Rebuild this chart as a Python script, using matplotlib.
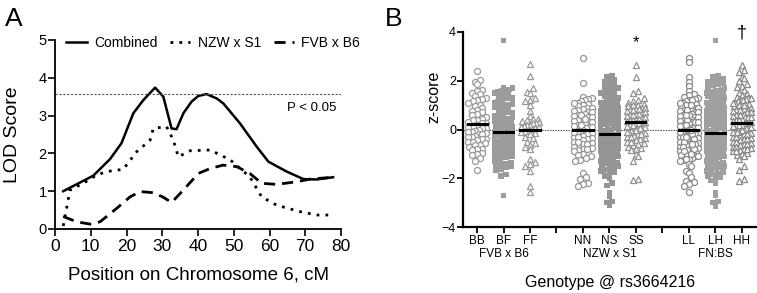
import numpy as np
import matplotlib
matplotlib.use("Agg")
import matplotlib.pyplot as plt
from matplotlib.lines import Line2D
from matplotlib.transforms import blended_transform_factory

plt.rcParams['font.family'] = ['Liberation Sans', 'DejaVu Sans']

# ---- panel A: LOD curves along chromosome 6 ----
comb_x = [2.3, 10.7, 15.4, 18.6, 21.9, 24.7, 28.0, 30.3, 32.6, 34.0, 35.9, 38.2, 40.1,
          42.4, 45.3, 47.1, 51.7, 56.4, 59.7, 64.8, 69.5, 73.2, 77.8]
comb_y = [1.00, 1.41, 1.85, 2.27, 3.06, 3.41, 3.74, 3.50, 2.66, 2.64, 3.06, 3.37, 3.52,
          3.57, 3.45, 3.32, 2.80, 2.18, 1.78, 1.52, 1.32, 1.31, 1.37]
nzw_x = [2.3, 4.2, 7.9, 11.7, 14.5, 19.1, 22.9, 26.6, 27.5, 31.2, 33.1, 34.5, 37.8,
         43.4, 49.0, 54.5, 57.8, 62.0, 68.5, 73.2, 77.4]
nzw_y = [0.08, 1.03, 1.21, 1.43, 1.52, 1.58, 2.05, 2.35, 2.66, 2.71, 2.35, 1.91, 2.07,
         2.09, 1.83, 1.38, 0.85, 0.63, 0.46, 0.37, 0.37]
fvb_x = [2.3, 6.1, 9.8, 12.6, 17.3, 21.0, 23.8, 27.5, 30.3, 32.6, 35.9, 40.1, 43.4,
         47.0, 50.8, 54.5, 57.8, 62.0, 67.6, 71.3, 77.8]
fvb_y = [0.33, 0.19, 0.13, 0.19, 0.55, 0.85, 0.99, 0.96, 0.84, 0.70, 1.03, 1.47, 1.60,
         1.69, 1.65, 1.47, 1.21, 1.18, 1.25, 1.32, 1.37]
threshold = 3.57

# ---- panel B: z-scores by genotype ----
bb = [2.38, 2.05, 1.95, 1.85, 1.62, 1.58, 1.5, 1.45, 1.38, 1.3, 1.25, 1.2, 1.15, 1.1, 1.02,
      0.95, 0.9, 0.82, 0.75, 0.7, 0.62, 0.58, 0.5, 0.45, 0.4, 0.38, 0.32, 0.28, 0.25, 0.2,
      0.15, 0.12, 0.08, 0.05, 0.0, -0.05, -0.1, -0.1, -0.15, -0.2, -0.2, -0.25, -0.3, -0.3,
      -0.38, -0.4, -0.45, -0.5, -0.5, -0.55, -0.62, -0.65, -0.7, -0.78, -0.8, -0.85, -0.95,
      -1.0, -1.05, -1.15, -1.3, -1.65]
bf = [3.65, 1.72, 1.7, 1.65, 1.62, 1.55, 1.5, 1.45, 1.4, 1.35, 1.3, 1.28, 1.2, 1.15, 1.1,
      1.05, 1.0, 0.95, 0.92, 0.85, 0.8, 0.78, 0.7, 0.65, 0.6, 0.55, 0.5, 0.45, 0.42, 0.35,
      0.3, 0.28, 0.2, 0.15, 0.1, 0.08, 0.02, -0.02, -0.05, -0.1, -0.12, -0.15, -0.2, -0.22,
      -0.25, -0.3, -0.32, -0.35, -0.4, -0.42, -0.45, -0.5, -0.52, -0.55, -0.6, -0.62, -0.65,
      -0.7, -0.72, -0.75, -0.8, -0.82, -0.85, -0.9, -0.92, -0.95, -1.0, -1.02, -1.05, -1.1,
      -1.12, -1.15, -1.2, -1.25, -1.3, -1.35, -1.4, -1.45, -1.5, -1.55, -1.62, -1.68, -1.85,
      -1.9, -2.7, 1.6, 1.3, 1.0, 0.7, 0.4, 0.1, -0.2, -0.5, -0.8, -1.1, -1.4]
ff = [2.7, 2.2, 1.7, 1.55, 1.48, 1.3, 1.2, 1.15, 1.0, 0.75, 0.55, 0.45, 0.42, 0.38, 0.35,
      0.3, 0.28, 0.25, 0.2, 0.18, 0.15, 0.12, 0.1, 0.05, 0.02, 0.0, -0.05, -0.1, -0.15,
      -0.2, -0.3, -0.35, -0.5, -0.55, -0.65, -0.7, -0.8, -1.2, -1.35, -1.4, -1.48, -1.7,
      -2.3, -2.58]
nn = [2.95, 1.92, 1.35, 1.3, 1.25, 1.2, 1.15, 1.1, 1.05, 1.0, 0.95, 0.9, 0.85, 0.8, 0.75,
      0.7, 0.65, 0.6, 0.55, 0.5, 0.45, 0.4, 0.35, 0.3, 0.25, 0.2, 0.15, 0.1, 0.05, 0.0,
      -0.05, -0.1, -0.15, -0.2, -0.25, -0.3, -0.35, -0.4, -0.45, -0.5, -0.55, -0.6, -0.65,
      -0.7, -0.75, -0.8, -0.85, -0.9, -0.95, -1.0, -1.05, -1.1, -1.15, -1.25, -1.3, -1.8,
      -1.95, -2.05, -2.2, -2.22, -2.3, 0.9, 0.7, 0.5, 0.3, 0.1, -0.1, -0.3, -0.5, -0.6,
      -0.8, 1.1, 0.6, 0.45, 0.2]
ns = [2.2, 2.15, 2.05, 2.0, 1.95, 1.85, 1.8, 1.75, 1.7, 1.65, 1.6, 1.55, 1.5, 1.45, 1.4,
      1.35, 1.3, 1.25, 1.2, 1.15, 1.1, 1.05, 1.0, 0.95, 0.9, 0.85, 0.8, 0.75, 0.7, 0.65,
      0.6, 0.55, 0.5, 0.45, 0.4, 0.35, 0.3, 0.25, 0.2, 0.15, 0.1, 0.05, 0.0, -0.05, -0.1,
      -0.15, -0.2, -0.25, -0.3, -0.35, -0.4, -0.45, -0.5, -0.55, -0.6, -0.65, -0.7, -0.75,
      -0.8, -0.85, -0.9, -0.95, -1.0, -1.05, -1.1, -1.15, -1.2, -1.25, -1.3, -1.35, -1.4,
      -1.45, -1.5, -1.55, -1.6, -1.65, -1.7, -1.75, -1.8, -1.9, -2.0, -2.2, -2.3, -2.6,
      -2.75, -2.95, -3.0, -3.12, 1.2, 1.0, 0.8, 0.6, 0.4, 0.2, 0.0, -0.2, -0.4, -0.6, -0.8,
      -1.0, -1.2, -1.4, 1.1, 0.9, 0.7, 0.5, 0.3, 0.1, -0.1, -0.3, -0.5, -0.7, -0.9, -1.1,
      -1.3, -1.5, -1.7]
ss = [2.65, 2.15, 1.6, 1.5, 1.3, 1.2, 1.15, 1.1, 1.05, 1.0, 0.95, 0.9, 0.85, 0.8, 0.75,
      0.7, 0.65, 0.6, 0.55, 0.5, 0.45, 0.4, 0.35, 0.3, 0.25, 0.2, 0.15, 0.1, 0.05, 0.0,
      -0.05, -0.1, -0.15, -0.2, -0.25, -0.3, -0.35, -0.4, -0.45, -0.5, -0.55, -0.6, -0.65,
      -0.7, -0.75, -0.8, -0.85, -1.0, -1.1, -1.3, -2.05, -2.08, 1.0, 0.9, 0.8, 0.7, 0.6,
      0.5, 0.4, 0.3, 0.2, 0.1, 0.0, -0.1, -0.2, -0.3, -0.5, 0.85, 0.65, 0.45, 0.25, 0.05]
ll = [2.95, 2.75, 2.15, 1.95, 1.8, 1.6, 1.45, 1.4, 1.35, 1.3, 1.25, 1.2, 1.15, 1.1, 1.05,
      1.0, 0.95, 0.9, 0.85, 0.8, 0.75, 0.7, 0.65, 0.6, 0.55, 0.5, 0.45, 0.4, 0.35, 0.3,
      0.25, 0.2, 0.15, 0.1, 0.05, 0.0, -0.05, -0.1, -0.15, -0.2, -0.25, -0.3, -0.35, -0.4,
      -0.45, -0.5, -0.55, -0.6, -0.65, -0.7, -0.75, -0.8, -0.85, -0.9, -0.95, -1.0, -1.05,
      -1.1, -1.15, -1.2, -1.25, -1.3, -1.4, -1.5, -1.7, -1.8, -1.95, -2.1, -2.15, -2.25,
      -2.3, -2.55, 1.2, 1.0, 0.8, 0.6, 0.4, 0.2, 0.0, -0.2, -0.4, -0.6, -0.8, -1.0, -1.2,
      1.1, 0.9, 0.7, 0.5, 0.3, 0.1, -0.1, -0.3, -0.5, -0.7, -0.9, -1.1, 0.6, 0.3, 0.0,
      -0.3, -0.6]
lh = [3.65, 2.2, 2.15, 2.1, 2.05, 2.0, 1.95, 1.9, 1.85, 1.8, 1.75, 1.7, 1.65, 1.6, 1.55,
      1.5, 1.45, 1.4, 1.35, 1.3, 1.25, 1.2, 1.15, 1.1, 1.05, 1.0, 0.95, 0.9, 0.85, 0.8,
      0.75, 0.7, 0.65, 0.6, 0.55, 0.5, 0.45, 0.4, 0.35, 0.3, 0.25, 0.2, 0.15, 0.1, 0.05,
      0.0, -0.05, -0.1, -0.15, -0.2, -0.25, -0.3, -0.35, -0.4, -0.45, -0.5, -0.55, -0.6,
      -0.65, -0.7, -0.75, -0.8, -0.85, -0.9, -0.95, -1.0, -1.05, -1.1, -1.15, -1.2, -1.25,
      -1.3, -1.35, -1.4, -1.45, -1.5, -1.55, -1.6, -1.65, -1.7, -1.75, -1.8, -1.85, -1.9,
      -1.95, -2.0, -2.1, -2.2, -2.6, -2.7, -2.95, -3.0, -3.15, 1.6, 1.4, 1.2, 1.0, 0.8,
      0.6, 0.4, 0.2, 0.0, -0.2, -0.4, -0.6, -0.8, -1.0, -1.2, -1.4, -1.6, 1.5, 1.3, 1.1,
      0.9, 0.7, 0.5, 0.3, 0.1, -0.1, -0.3, -0.5, -0.7, -0.9, -1.1, -1.3, -1.5, -1.7]
hh = [2.65, 2.45, 2.35, 2.15, 2.1, 2.0, 1.85, 1.8, 1.75, 1.62, 1.5, 1.45, 1.4, 1.35, 1.3,
      1.25, 1.2, 1.15, 1.1, 1.05, 1.0, 0.95, 0.9, 0.85, 0.8, 0.75, 0.7, 0.65, 0.6, 0.55,
      0.5, 0.45, 0.4, 0.35, 0.3, 0.25, 0.2, 0.15, 0.1, 0.05, 0.0, -0.05, -0.1, -0.15,
      -0.2, -0.25, -0.3, -0.35, -0.4, -0.45, -0.5, -0.55, -0.6, -0.65, -0.7, -0.75, -0.8,
      -0.85, -0.9, -0.95, -1.0, -1.05, -1.1, -1.2, -1.5, -1.65, -2.05, -2.1, 1.3, 1.1,
      0.9, 0.7, 0.5, 0.3, 0.1, -0.1, -0.3, -0.5, -0.7, -0.9, 1.2, 1.0, 0.8, 0.6, 0.4,
      0.2, 0.0, -0.2, -0.4, -0.6, -0.8, 0.5, 0.2, -0.1]

groups = [bb, bf, ff, nn, ns, ss, ll, lh, hh]
group_means = [0.24, -0.12, 0.0, -0.03, -0.17, 0.30, -0.02, -0.15, 0.27]
genotypes = ['BB', 'BF', 'FF', 'NN', 'NS', 'SS', 'LL', 'LH', 'HH']
crosses = ['FVB x B6', 'NZW x S1', 'FN:BS']
positions = [1, 2, 3, 5, 6, 7, 9, 10, 11]
markers = ['o', 's', '^'] * 3
colors = ['#9a9a9a', '#9c9c9c', '#9a9a9a', '#969696', '#959595', '#939393',
          '#8a8a8a', '#a0a0a0', '#8a8a8a']


def spread(vals, row=0.2, step=0.19, maxw=0.34):
    # Prism-style column scatter: points in the same row are spread side by side
    vals = np.asarray(vals, float)
    offs = np.zeros(len(vals))
    rows = np.round(vals / row)
    for r in np.unique(rows):
        idx = np.where(rows == r)[0]
        k = len(idx)
        o = (np.arange(k) - (k - 1) / 2) * step
        if k > 1 and o.max() > maxw:
            o = np.linspace(-maxw, maxw, k)
        order = np.argsort(vals[idx])
        offs[idx[order]] = o
    return offs


fig = plt.figure(figsize=(7.57, 2.93), dpi=100)

# ---------------- panel A ----------------
ax = fig.add_axes([55 / 757, 1 - 229 / 293, 286 / 757, 189 / 293])
ax.plot(comb_x, comb_y, color='black', lw=1.8, solid_joinstyle='round')
ax.plot(nzw_x, nzw_y, color='black', lw=2.0, linestyle=(0, (1, 2.2)))
ax.plot(fvb_x, fvb_y, color='black', lw=2.0, linestyle=(0, (4, 2.5)))
ax.axhline(threshold, color='#555555', lw=0.8, linestyle=(0, (2, 1.5)))
ax.text(65, 3.2, 'P < 0.05', fontsize=9.5, va='center', ha='left')
ax.set_xlim(0, 80)
ax.set_ylim(0, 5)
ax.set_xticks(range(0, 81, 10))
ax.set_yticks(range(0, 6))
ax.tick_params(axis='x', labelsize=12.5, length=5, width=1.2, pad=2)
ax.tick_params(axis='y', labelsize=10.5, length=5, width=1.2, pad=1)
for s in ['top', 'right']:
    ax.spines[s].set_visible(False)
for s in ['left', 'bottom']:
    ax.spines[s].set_linewidth(1.3)
ax.set_ylabel('LOD Score', fontsize=14)
ax.yaxis.set_label_coords(-0.118, 0.5)
fig.text(198 / 757, 1 - 275 / 293, 'Position on Chromosome 6, cM', fontsize=13.5,
         ha='center', va='center')
handles = [Line2D([], [], color='black', lw=1.8),
           Line2D([], [], color='black', lw=2.0, linestyle=(0, (1, 2.2))),
           Line2D([], [], color='black', lw=2.0, linestyle=(0, (4, 2.5)))]
ax.legend(handles, ['Combined', 'NZW x S1', 'FVB x B6'], ncol=3, loc='center left',
          bbox_to_anchor=(0.04, 0.985), frameon=False, fontsize=10, borderpad=0,
          borderaxespad=0, handlelength=1.45, handletextpad=0.55, columnspacing=0.9)
fig.text(0.006, 0.975, 'A', fontsize=19, va='top', ha='left')

# ---------------- panel B ----------------
bx = fig.add_axes([463 / 757, 1 - 227 / 293, 294 / 757, 195 / 293])
bx.axhline(0, color='#444444', lw=0.7, linestyle=(0, (1.5, 1.2)), zorder=1)
for pos, vals, m, c, mu in zip(positions, groups, markers, colors, group_means):
    xs = pos + spread(vals)
    if m == 's':
        bx.scatter(xs, vals, marker='s', s=16, color=c, edgecolors='none', zorder=2)
    else:
        bx.scatter(xs, vals, marker=m, s=19, facecolors='white', edgecolors=c,
                   linewidths=0.9, zorder=2)
    bx.plot([pos - 0.36, pos + 0.36], [mu, mu], color='black', lw=2.2, zorder=3)
bx.text(7, 3.55, '*', fontsize=12, ha='center', va='center')
bx.text(11, 3.95, '\u2020', fontsize=13, ha='center', va='center')
bx.set_xlim(0.47, 11.57)
bx.set_ylim(-4, 4)
bx.set_yticks([-4, -2, 0, 2, 4])
bx.set_xticks(range(1, 12))
bx.set_xticklabels(['BB', 'BF', 'FF', '', 'NN', 'NS', 'SS', '', 'LL', 'LH', 'HH'])
bx.tick_params(axis='x', labelsize=8.5, length=4, width=1.3, pad=1.5)
bx.tick_params(axis='y', labelsize=9, length=4, width=1.3, pad=1)
for s in ['top', 'right']:
    bx.spines[s].set_visible(False)
for s in ['left', 'bottom']:
    bx.spines[s].set_linewidth(1.6)
bx.set_ylabel('z-score', fontsize=11.5)
bx.yaxis.set_label_coords(-0.072, 0.67)
trans = blended_transform_factory(bx.transData, fig.transFigure)
for cross, pos in zip(crosses, [2, 6, 10]):
    bx.text(pos, 1 - 254 / 293, cross, fontsize=8.5, ha='center', va='center',
            transform=trans)
fig.text(610 / 757, 1 - 283 / 293, 'Genotype @ rs3664216', fontsize=11.5,
         ha='center', va='center')
fig.text(0.508, 0.975, 'B', fontsize=19, va='top', ha='left')

fig.savefig('out.png', dpi=100)
